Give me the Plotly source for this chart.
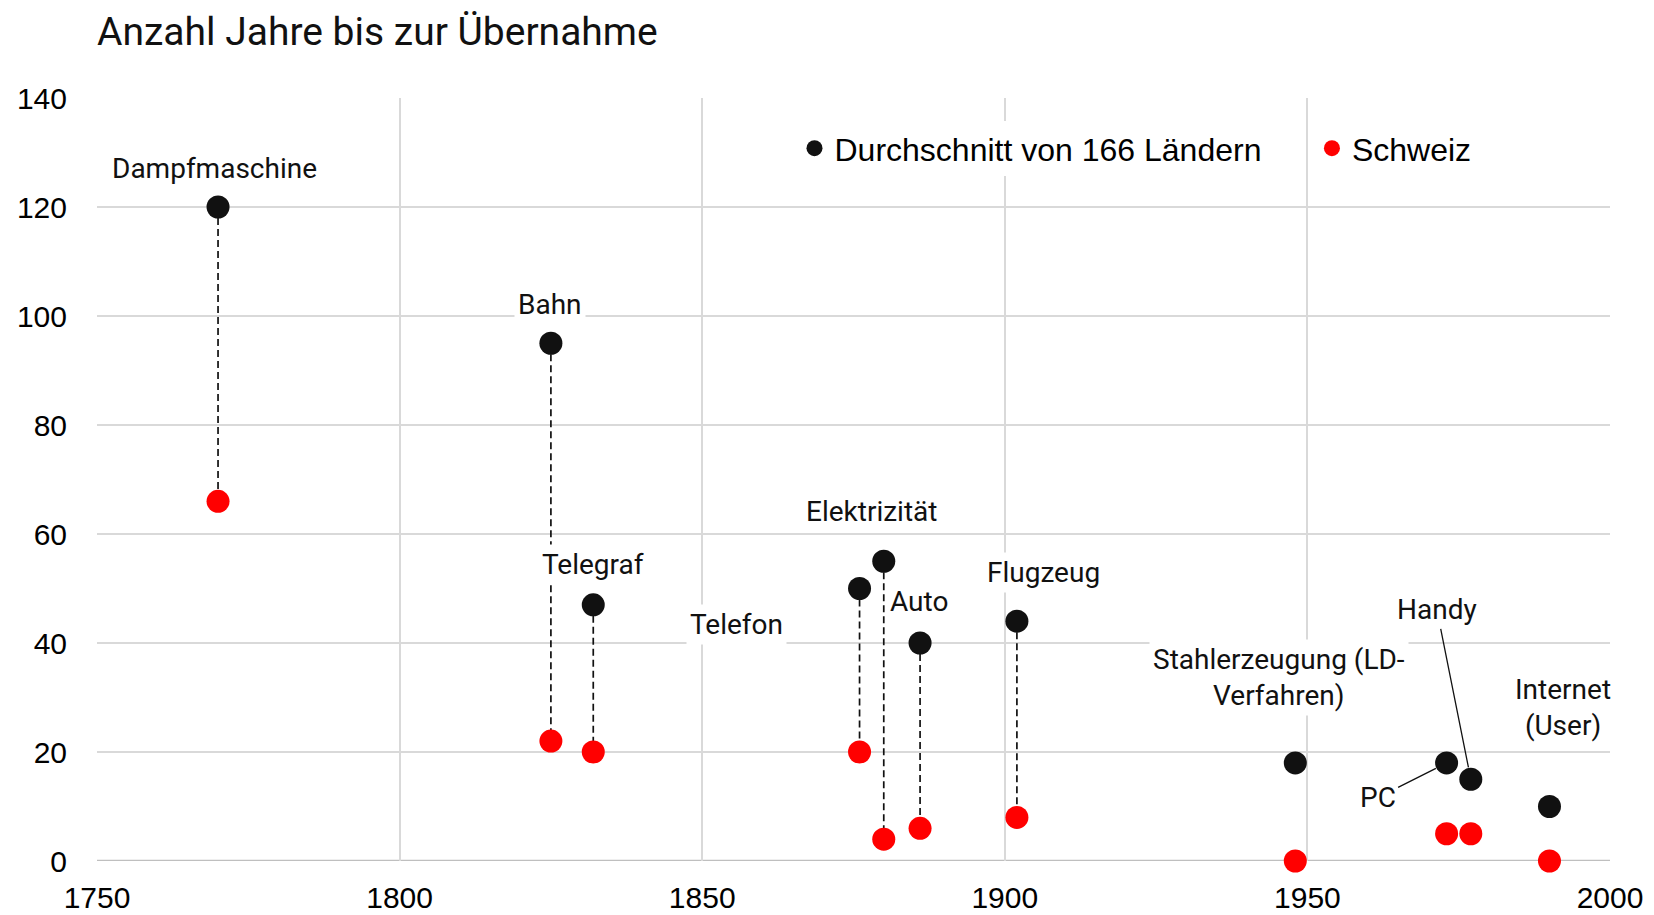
import plotly.graph_objects as go

# ---- data ----
technologies = ["Dampfmaschine", "Bahn", "Telegraf", "Telefon", "Elektrizität", "Auto",
                "Flugzeug", "Stahlerzeugung (LD-<br>Verfahren)", "PC", "Handy", "Internet<br>(User)"]
years = [1770, 1825, 1832, 1876, 1880, 1886, 1902, 1948, 1973, 1977, 1990]
avg_166 = [120, 95, 47, 50, 55, 40, 44, 18, 18, 15, 10]
schweiz = [66, 22, 20, 20, 4, 6, 8, 0, 5, 5, 0]
connected = [True, True, True, True, True, True, True, False, False, False, False]

# label placement (layout)
label_x = [1769.4, 1824.8, 1831.9, 1855.6, 1878.0, 1885.8, 1906.4, 1945.3, 1961.6, 1971.4, 1992.2]
label_y = [127.0, 102.2, 54.4, 43.4, 64.1, 47.6, 52.9, 33.7, 11.6, 46.1, 28.1]
leader = [False, False, False, False, False, False, False, False, True, True, False]

x_ticks = [1750, 1800, 1850, 1900, 1950, 2000]
y_ticks = [0, 20, 40, 60, 80, 100, 120, 140]

BLACK = "#111111"
RED = "#ff0000"
LABEL_FONT = dict(family="Roboto", size=28, color="#111111")

fig = go.Figure()

# dashed connectors
lx, ly = [], []
for yr, a, s, c in zip(years, avg_166, schweiz, connected):
    if c:
        lx += [yr, yr, None]
        ly += [a, s, None]
fig.add_trace(go.Scatter(x=lx, y=ly, mode="lines", showlegend=False, hoverinfo="skip",
                         line=dict(color=BLACK, width=1.7, dash="7px,4px")))

fig.add_trace(go.Scatter(x=years, y=avg_166, mode="markers", name="Durchschnitt von 166 Ländern",
                         marker=dict(color=BLACK, size=23, line=dict(width=0)), cliponaxis=False,
                         legend="legend"))
fig.add_trace(go.Scatter(x=years, y=schweiz, mode="markers", name="Schweiz",
                         marker=dict(color=RED, size=23, line=dict(width=0)), cliponaxis=False,
                         legend="legend2"))

for i, name in enumerate(technologies):
    if leader[i]:
        fig.add_annotation(x=years[i], y=avg_166[i], ax=label_x[i], ay=label_y[i],
                           axref="x", ayref="y", text=name, showarrow=True, arrowhead=0,
                           arrowwidth=1.3, arrowcolor=BLACK, standoff=12,
                           font=LABEL_FONT, bgcolor="white", borderpad=2)
    else:
        fig.add_annotation(x=label_x[i], y=label_y[i], text=name, showarrow=False,
                           font=LABEL_FONT, bgcolor="white", borderpad=3, align="center")

fig.add_annotation(xref="paper", yref="paper", x=0.0, y=1.0, yshift=66, xshift=-2,
                   xanchor="left", yanchor="middle", showarrow=False,
                   text="Anzahl Jahre bis zur Übernahme",
                   font=dict(family="Roboto", size=39, color="#111111"))

legend_common = dict(orientation="h", yanchor="middle", xanchor="left", bgcolor="white",
                     font=dict(family="Liberation Sans", size=32, color="black"), itemwidth=30)

fig.update_layout(
    width=1654, height=915,
    margin=dict(l=97, r=44, t=98, b=54),
    paper_bgcolor="white", plot_bgcolor="white",
    font=dict(family="Liberation Sans", size=30, color="black"),
    showlegend=True,
    legend=dict(x=0.461, y=0.934, **legend_common),
    legend2=dict(x=0.803, y=0.934, **legend_common),
    xaxis=dict(range=[1750, 2000], tickvals=x_ticks, ticktext=[str(v) for v in x_ticks],
               showgrid=True, gridcolor="#d9d9d9", gridwidth=1.5, zeroline=False,
               showline=False, ticks="", ticklabelstandoff=16, automargin=False,
               fixedrange=True),
    yaxis=dict(range=[0, 140], tickvals=y_ticks, ticktext=[str(v) for v in y_ticks],
               showgrid=True, gridcolor="#d9d9d9", gridwidth=1.5, zeroline=False,
               showline=False, ticks="", ticklabelstandoff=29, automargin=False,
               fixedrange=True),
)
# bottom axis line (slightly darker)
fig.add_shape(type="line", xref="paper", yref="y", x0=0, x1=1, y0=0, y1=0,
              line=dict(color="#bfbfbf", width=2.5), layer="below")

fig.write_html("out.html", config={"displayModeBar": False},
               post_script="document.body.style.margin='0';document.body.style.overflow='hidden';")
